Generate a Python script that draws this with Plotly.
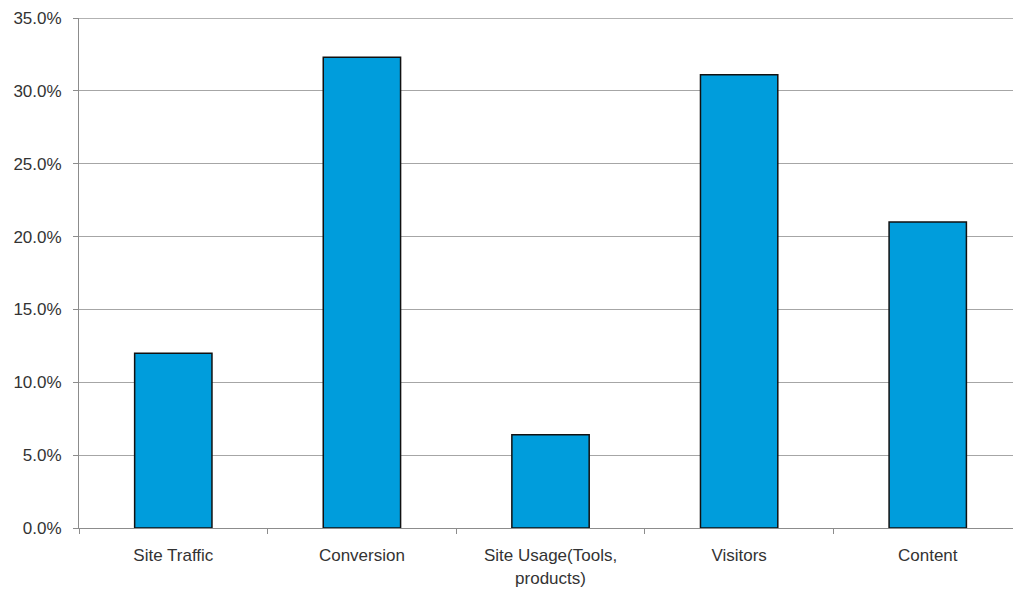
import plotly.graph_objects as go

categories = ["Site Traffic", "Conversion", "Site Usage(Tools,<br>products)", "Visitors", "Content"]
shares = [12.0, 32.3, 6.4, 31.1, 21.0]
y_ticks = [0, 5, 10, 15, 20, 25, 30, 35]
y_labels = ["0.0%", "5.0%", "10.0%", "15.0%", "20.0%", "25.0%", "30.0%", "35.0%"]

font_family = "Liberation Sans, Arial, sans-serif"
label_font = dict(family=font_family, size=17, color="#333333")

fig = go.Figure(
    go.Bar(
        x=categories,
        y=shares,
        width=0.41,
        marker=dict(color="#009DDC", line=dict(color="#111111", width=1.5)),
    )
)

fig.update_layout(
    width=1013,
    height=597,
    margin=dict(l=79, r=0, t=18, b=69),
    paper_bgcolor="white",
    plot_bgcolor="white",
    showlegend=False,
    font=label_font,
    shapes=[
        dict(type="line", xref="paper", yref="y", x0=0, x1=1, y0=35, y1=35,
             line=dict(color="#999999", width=1.6)),
    ],
)

fig.update_xaxes(
    type="category",
    range=[-0.5, 4.452],
    showline=True,
    linecolor="#8c8c8c",
    linewidth=1,
    ticks="outside",
    tickson="boundaries",
    ticklen=5,
    tickcolor="#8c8c8c",
    showgrid=False,
    ticklabelstandoff=12,
    tickfont=label_font,
)

fig.update_yaxes(
    range=[0, 35],
    tickvals=y_ticks,
    ticktext=y_labels,
    showline=True,
    linecolor="#8c8c8c",
    linewidth=1,
    ticks="outside",
    ticklen=5,
    tickcolor="#8c8c8c",
    showgrid=True,
    gridcolor="#a6a6a6",
    gridwidth=1,
    zeroline=False,
    ticklabelstandoff=8,
    tickfont=label_font,
)

fig.write_html("out.html")
